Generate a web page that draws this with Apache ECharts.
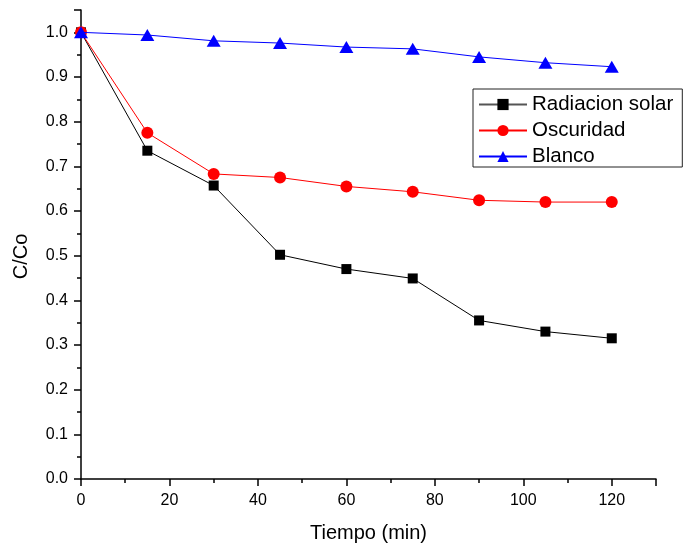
<!DOCTYPE html>
<html><head><meta charset="utf-8">
<script src="https://cdn.jsdelivr.net/npm/echarts@6/dist/echarts.min.js"></script>
<style>html,body{margin:0;padding:0;background:#fff}#c{width:685px;height:548px}</style>
</head><body><div id="c"></div>
<script>
const times = [0, 15, 30, 45, 60, 75, 90, 105, 120];
const radiacion = [1.0, 0.735, 0.657, 0.502, 0.470, 0.449, 0.355, 0.330, 0.315];
const oscuridad = [1.0, 0.775, 0.683, 0.675, 0.655, 0.643, 0.624, 0.620, 0.620];
const blanco = [1.0, 0.994, 0.981, 0.976, 0.967, 0.963, 0.945, 0.932, 0.923];
const names = ['Radiacion solar', 'Oscuridad', 'Blanco'];
const FONT = 'Liberation Sans, Arial, sans-serif';
const pair = arr => times.map((t, i) => [t, arr[i]]);
const chart = echarts.init(document.getElementById('c'), null, {renderer: 'canvas'});
chart.setOption({
  animation: false,
  backgroundColor: '#fff',
  grid: {left: 81, right: 29, top: 10, bottom: 69, containLabel: false, outerBoundsMode: 'none'},
  legend: {
    orient: 'vertical', left: 473, top: 89,
    padding: [5, 9, 0, 5],
    itemGap: 5, itemWidth: 48, itemHeight: 14,
    borderColor: '#222', borderWidth: 1,
    textStyle: {fontFamily: FONT, fontSize: 20.5, color: '#000'},
    data: [
      {name: names[0], lineStyle: {color: '#555'}},
      {name: names[1]},
      {name: names[2]}
    ]
  },
  xAxis: {
    type: 'value', min: 0, max: 130, interval: 20,
    name: 'Tiempo (min)', nameLocation: 'middle', nameGap: 44,
    nameTextStyle: {fontFamily: FONT, fontSize: 20, color: '#000'},
    axisLine: {lineStyle: {color: '#000', width: 1.5}},
    axisTick: {inside: false, length: 7, lineStyle: {color: '#000', width: 1.5}},
    minorTick: {show: true, splitNumber: 2, length: 4, lineStyle: {color: '#000', width: 1.5}},
    axisLabel: {fontFamily: FONT, fontSize: 16, color: '#000', margin: 14,
      formatter: v => (v > 120 ? '' : String(v))},
    splitLine: {show: false}
  },
  yAxis: {
    type: 'value', min: 0, max: 1.05, interval: 0.1,
    name: 'C/Co', nameLocation: 'middle', nameGap: 50, nameRotate: 90,
    nameTextStyle: {fontFamily: FONT, fontSize: 20, color: '#000', padding: [0, 24, 0, 0]},
    axisLine: {show: true, lineStyle: {color: '#000', width: 1.5}},
    axisTick: {show: true, inside: false, length: 7, lineStyle: {color: '#000', width: 1.5}},
    minorTick: {show: true, splitNumber: 2, length: 4, lineStyle: {color: '#000', width: 1.5}},
    axisLabel: {fontFamily: FONT, fontSize: 16, color: '#000', margin: 13,
      formatter: v => (v > 1.001 ? '' : v.toFixed(1))},
    splitLine: {show: false}
  },
  series: [
    {name: names[0], type: 'line', data: pair(radiacion), symbol: 'rect', symbolSize: 10,
      itemStyle: {color: '#000'}, lineStyle: {color: '#000', width: 1}, z: 2},
    {name: names[1], type: 'line', data: pair(oscuridad), symbol: 'circle', symbolSize: 12,
      itemStyle: {color: '#ff0000'}, lineStyle: {color: '#ff0000', width: 1}, z: 3},
    {name: names[2], type: 'line', data: pair(blanco), symbol: 'triangle', symbolSize: [14, 12],
      itemStyle: {color: '#0000ff'}, lineStyle: {color: '#0000ff', width: 1}, z: 4}
  ]
});
</script></body></html>
